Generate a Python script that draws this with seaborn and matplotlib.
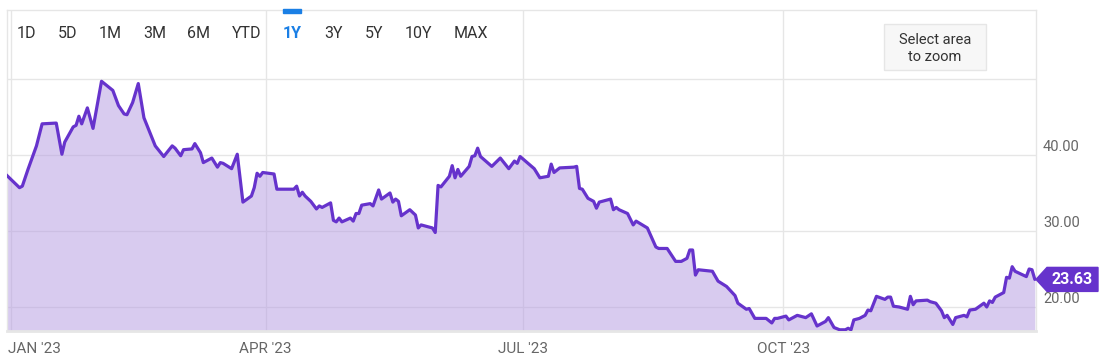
import matplotlib.pyplot as plt
import pandas as pd
import seaborn as sns
from matplotlib.patches import Polygon, Rectangle
from matplotlib.transforms import IdentityTransform, ScaledTranslation, blended_transform_factory


# closing prices (1Y range)
DATES = [
    "2022-12-30", "2023-01-04", "2023-01-05", "2023-01-07", "2023-01-10", "2023-01-12",
    "2023-01-17", "2023-01-19", "2023-01-20", "2023-01-23", "2023-01-24", "2023-01-25",
    "2023-01-26", "2023-01-28", "2023-01-30", "2023-02-02", "2023-02-04", "2023-02-06",
    "2023-02-08", "2023-02-10", "2023-02-11", "2023-02-13", "2023-02-15", "2023-02-17",
    "2023-02-21", "2023-02-24", "2023-02-27", "2023-02-28", "2023-03-02", "2023-03-03",
    "2023-03-06", "2023-03-07", "2023-03-09", "2023-03-10", "2023-03-13", "2023-03-15",
    "2023-03-16", "2023-03-17", "2023-03-20", "2023-03-22", "2023-03-24", "2023-03-27",
    "2023-03-28", "2023-03-29", "2023-03-30", "2023-03-31", "2023-04-04", "2023-04-05",
    "2023-04-11", "2023-04-12", "2023-04-13", "2023-04-14", "2023-04-15", "2023-04-17",
    "2023-04-19", "2023-04-20", "2023-04-21", "2023-04-24", "2023-04-25", "2023-04-26",
    "2023-04-27", "2023-04-28", "2023-05-01", "2023-05-02", "2023-05-03", "2023-05-04",
    "2023-05-05", "2023-05-08", "2023-05-09", "2023-05-11", "2023-05-12", "2023-05-15",
    "2023-05-16", "2023-05-17", "2023-05-18", "2023-05-19", "2023-05-22", "2023-05-24",
    "2023-05-25", "2023-05-26", "2023-05-30", "2023-05-31", "2023-06-01", "2023-06-02",
    "2023-06-05", "2023-06-06", "2023-06-07", "2023-06-08", "2023-06-09", "2023-06-12",
    "2023-06-13", "2023-06-14", "2023-06-15", "2023-06-16", "2023-06-20", "2023-06-23",
    "2023-06-26", "2023-06-28", "2023-06-29", "2023-06-30", "2023-07-05", "2023-07-07",
    "2023-07-10", "2023-07-11", "2023-07-12", "2023-07-14", "2023-07-19", "2023-07-20",
    "2023-07-21", "2023-07-22", "2023-07-24", "2023-07-26", "2023-07-27", "2023-07-28",
    "2023-08-01", "2023-08-02", "2023-08-03", "2023-08-04", "2023-08-07", "2023-08-09",
    "2023-08-10", "2023-08-14", "2023-08-17", "2023-08-18", "2023-08-21", "2023-08-24",
    "2023-08-26", "2023-08-28", "2023-08-29", "2023-08-30", "2023-08-31", "2023-09-01",
    "2023-09-06", "2023-09-08", "2023-09-11", "2023-09-14", "2023-09-15", "2023-09-18",
    "2023-09-19", "2023-09-21", "2023-09-25", "2023-09-27", "2023-09-28", "2023-09-29",
    "2023-10-02", "2023-10-03", "2023-10-06", "2023-10-09", "2023-10-11", "2023-10-13",
    "2023-10-16", "2023-10-17", "2023-10-19", "2023-10-21", "2023-10-23", "2023-10-24",
    "2023-10-25", "2023-10-26", "2023-10-28", "2023-10-30", "2023-10-31", "2023-11-01",
    "2023-11-03", "2023-11-06", "2023-11-07", "2023-11-08", "2023-11-09", "2023-11-11",
    "2023-11-14", "2023-11-15", "2023-11-16", "2023-11-17", "2023-11-21", "2023-11-22",
    "2023-11-24", "2023-11-26", "2023-11-27", "2023-11-28", "2023-11-30", "2023-12-01",
    "2023-12-04", "2023-12-05", "2023-12-06", "2023-12-08", "2023-12-11", "2023-12-12",
    "2023-12-13", "2023-12-14", "2023-12-15", "2023-12-18", "2023-12-19", "2023-12-20",
    "2023-12-21", "2023-12-22", "2023-12-26", "2023-12-27", "2023-12-28", "2023-12-29",
]
PRICES = [
    37.5, 35.7, 35.9, 38.1, 41.2, 44.1,
    44.2, 40.1, 41.7, 43.7, 43.9, 45.1,
    44.1, 46.2, 43.5, 49.7, 49.1, 48.5,
    46.5, 45.4, 45.3, 46.9, 49.4, 44.9,
    41.2, 39.8, 41.2, 40.9, 39.9, 40.7,
    40.8, 41.5, 40.3, 39.0, 39.6, 38.4,
    39.0, 38.9, 38.2, 40.1, 33.8, 34.6,
    35.7, 37.6, 37.2, 37.7, 37.5, 35.5,
    35.5, 35.9, 34.6, 35.1, 34.6, 33.9,
    32.9, 33.3, 33.1, 33.7, 31.4, 31.2,
    31.7, 31.2, 31.7, 31.3, 32.3, 32.3,
    33.4, 33.6, 33.3, 35.4, 34.2, 35.0,
    33.8, 34.2, 33.9, 32.0, 32.8, 32.1,
    30.4, 30.8, 30.4, 29.8, 36.0, 35.8,
    37.2, 38.6, 37.0, 38.1, 37.2, 38.5,
    39.8, 39.9, 40.9, 39.8, 38.5, 39.6,
    38.2, 39.2, 38.9, 39.8, 38.2, 37.0,
    37.2, 38.8, 37.7, 38.3, 38.4, 38.5,
    35.6, 35.5, 34.3, 33.9, 33.0, 33.8,
    34.2, 32.8, 33.1, 32.8, 32.3, 30.8,
    31.3, 30.4, 27.9, 27.7, 27.7, 26.0,
    26.0, 26.4, 27.5, 27.5, 24.2, 24.9,
    24.7, 23.4, 22.7, 21.5, 20.5, 19.7,
    19.8, 18.5, 18.5, 17.9, 18.5, 18.5,
    18.8, 18.3, 18.9, 18.6, 19.1, 17.5,
    18.1, 18.6, 17.3, 17.0, 17.0, 17.2,
    17.0, 18.3, 18.5, 18.9, 19.6, 19.5,
    21.4, 21.0, 21.3, 21.3, 20.1, 20.0,
    19.7, 21.4, 20.3, 20.8, 20.9, 20.7,
    20.5, 19.5, 18.6, 18.9, 17.7, 18.6,
    18.9, 18.7, 19.6, 19.7, 20.5, 20.0,
    20.8, 20.6, 21.3, 21.9, 23.9, 23.8,
    25.3, 24.7, 24.0, 25.0, 24.9, 23.63,
]

Y_TICKS = [20, 30, 40, 50]
Y_LABELS = ["20.00", "30.00", "40.00", ""]
X_TICKS = ["2023-01-01", "2023-04-01", "2023-07-01", "2023-10-01"]
X_LABELS = ["JAN '23", "APR '23", "JUL '23", "OCT '23"]
RANGES = ["1D", "5D", "1M", "3M", "6M", "YTD", "1Y", "3Y", "5Y", "10Y", "MAX"]
ACTIVE_RANGE = "1Y"

X_RANGE = ("2022-12-30 14:00", "2023-12-29 10:00")
Y_RANGE = (16.84, 59.08)

LINE = "#6633cc"
FILL = "#b399e1"
GRID = "#e6e6e6"
TEXT = "#666666"
DARK = "#333333"
BLUE = "#1a7fe5"

W, H = 1106, 364
BUTTON_LEFT = [17, 58, 99, 143, 187, 232, 283, 324, 365, 405, 454]


def fx(px):
    return px / W


def fy(py):
    return 1 - py / H


sns.set_theme(style="white")
plt.rcParams["font.family"] = ["Roboto", "DejaVu Sans"]

df = pd.DataFrame({"date": pd.to_datetime(DATES), "price": PRICES})

fig = plt.figure(figsize=(W / 100, H / 100), dpi=100)
ax = fig.add_axes([fx(7), 33 / H, 1029 / W, 321 / H])

sns.lineplot(data=df, x="date", y="price", color=LINE, linewidth=2.3, ax=ax, zorder=3)
ax.lines[0].set_solid_joinstyle("round")
ax.fill_between(df["date"], df["price"], Y_RANGE[0], color=FILL, alpha=0.5, lw=0, zorder=2)

ax.set_xlim(pd.Timestamp(X_RANGE[0]), pd.Timestamp(X_RANGE[1]))
ax.set_ylim(*Y_RANGE)
ax.set_yticks(Y_TICKS)
ax.set_xticks(pd.to_datetime(X_TICKS))
ax.grid(True, color=GRID, linewidth=1)
ax.set_axisbelow(True)
ax.tick_params(length=0, labelbottom=False, labelleft=False)
ax.set_xlabel("")
ax.set_ylabel("")
for s in ax.spines.values():
    s.set_color(GRID)
    s.set_linewidth(1)
ax.spines["bottom"].set_linewidth(2)

# y labels sit a bit above their grid lines, on the right
ytrans = blended_transform_factory(ax.transAxes, ax.transData) + ScaledTranslation(
    0.07, 0.08, fig.dpi_scale_trans)
for v, lab in zip(Y_TICKS, Y_LABELS):
    ax.text(1, v, lab, transform=ytrans, ha="left", va="center",
            color=TEXT, fontsize=10.5, clip_on=False)

for i, (d, lab) in enumerate(zip(pd.to_datetime(X_TICKS), X_LABELS)):
    dx = -0.03 if i == 0 else 0
    xtrans = blended_transform_factory(ax.transData, ax.transAxes) + ScaledTranslation(
        dx, -0.18, fig.dpi_scale_trans)
    ax.text(d, 0, lab, transform=xtrans, ha="left" if i == 0 else "center",
            va="center", color=TEXT, fontsize=11, clip_on=False)

# range selector buttons
for lab, x in zip(RANGES, BUTTON_LEFT):
    active = lab == ACTIVE_RANGE
    fig.text(fx(x), fy(33), lab, ha="left", va="center", fontsize=11.5,
             color=BLUE if active else DARK,
             fontweight="bold" if active else "normal", zorder=6)
    if active:
        fig.patches.append(Rectangle((fx(x), fy(13)), 18 / W, 4 / H,
                                     transform=fig.transFigure, color=BLUE, zorder=5))

fig.patches.append(Rectangle((fx(884), fy(70)), 102 / W, 46 / H, transform=fig.transFigure,
                             facecolor="#f7f7f7", edgecolor=GRID, linewidth=1, zorder=4))
fig.text(fx(935), fy(40), "Select area", ha="center", va="center", fontsize=10.5,
         color=DARK, zorder=6)
fig.text(fx(935), fy(57), "to zoom", ha="center", va="center", fontsize=10.5,
         color=DARK, zorder=6)

# last price badge
last = PRICES[-1]
xt = ax.transAxes.transform((1, 0))[0]
yt = ax.transData.transform((ax.get_xlim()[0], last))[1]
badge = [(xt, yt), (xt + 11, yt + 12), (xt + 62, yt + 12), (xt + 62, yt - 12), (xt + 11, yt - 12)]
fig.add_artist(Polygon(badge, closed=True, transform=IdentityTransform(),
                       facecolor=LINE, edgecolor=LINE, zorder=6))
fig.text(xt + 36.5, yt, "{:.2f}".format(last), transform=IdentityTransform(),
         ha="center", va="center", fontsize=11.5, fontweight="bold", color="white", zorder=7)

fig.savefig("out.png", dpi=100)
